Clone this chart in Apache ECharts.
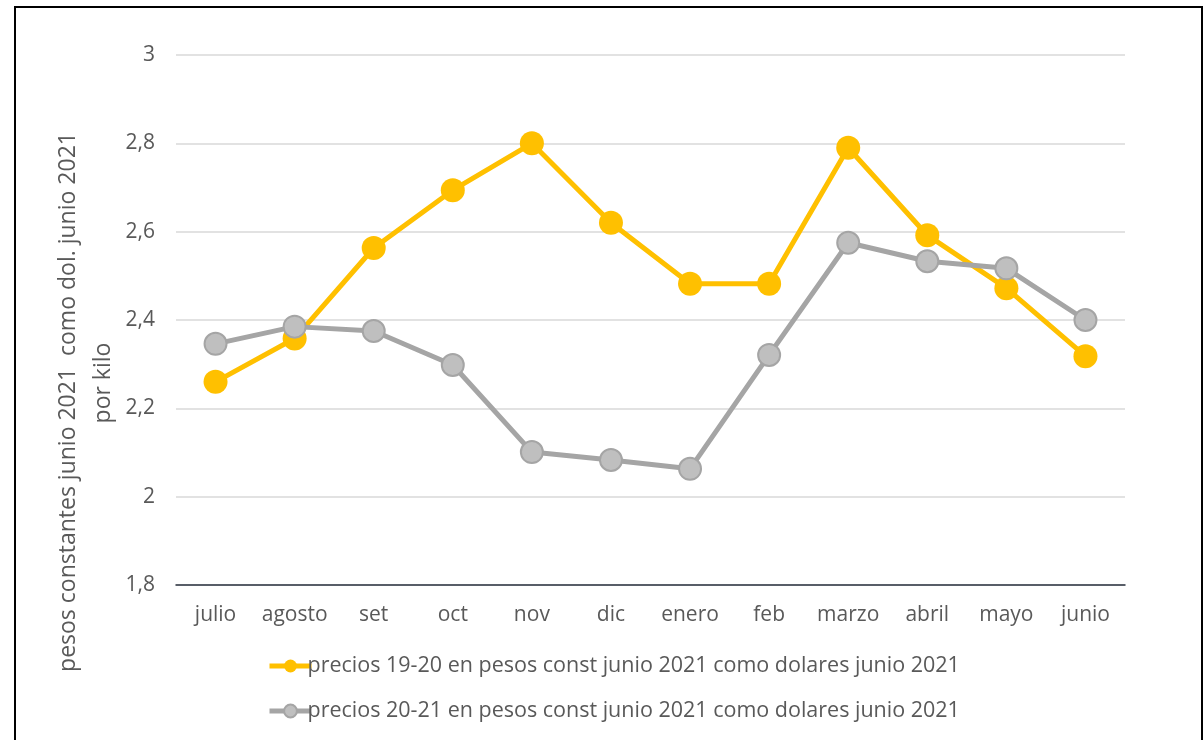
<!DOCTYPE html>
<html>
<head>
<meta charset="utf-8">
<script src="https://cdn.jsdelivr.net/npm/echarts@6/dist/echarts.min.js"></script>
<style>
  html, body { margin: 0; padding: 0; background: #fff; }
  #frame {
    position: absolute; left: 14px; top: 6px; width: 1189px; height: 760px;
    border: 2px solid #000; box-sizing: border-box;
  }
  #chart { position: absolute; left: 0; top: 0; width: 1204px; height: 740px; }
</style>
</head>
<body>
<div id="frame"></div>
<div id="chart"></div>
<script>
// meses
var months = ['julio', 'agosto', 'set', 'oct', 'nov', 'dic', 'enero', 'feb', 'marzo', 'abril', 'mayo', 'junio']
// precios 19-20
var precios1920 = [2.26, 2.358, 2.563, 2.694, 2.80, 2.62, 2.482, 2.482, 2.79, 2.592, 2.472, 2.318]
// precios 20-21
var precios2021 = [2.346, 2.385, 2.375, 2.298, 2.101, 2.083, 2.063, 2.321, 2.575, 2.533, 2.517, 2.40]

var name1 = 'precios 19-20 en pesos const junio 2021 como dolares junio 2021'
var name2 = 'precios 20-21 en pesos const junio 2021 como dolares junio 2021'
var yName1 = 'pesos constantes junio 2021  como dol. junio 2021'
var yName2 = 'por kilo'

var font = 'Open Sans'
var myChart = echarts.init(document.getElementById('chart'))

function yTitle(text, x, y) {
  return {
    type: 'text',
    x: x,
    y: y,
    rotation: Math.PI / 2,
    style: {
      text: text,
      fill: '#595959',
      fontSize: 23,
      fontFamily: font,
      align: 'center',
      verticalAlign: 'middle',
    },
  }
}

var option = {
  animation: false,
  grid: { left: 176, right: 79, top: 55, bottom: 155 },
  // titulo del eje y
  graphic: [yTitle(yName1, 68, 402), yTitle(yName2, 103, 383)],
  legend: {
    orient: 'vertical',
    left: 262,
    top: 650,
    itemGap: 23,
    itemWidth: 42,
    itemHeight: 16,
    lineStyle: { width: 5 },
    textStyle: { color: '#595959', fontSize: 21.5, fontFamily: font, padding: [0, 0, 0, -9] },
    data: [name1, name2],
  },
  xAxis: {
    type: 'category',
    data: months,
    boundaryGap: true,
    axisLine: { lineStyle: { color: '#2b3340', width: 1.5 } },
    axisTick: { show: false },
    axisLabel: { color: '#595959', fontSize: 21, fontFamily: font, margin: 20, interval: 0 },
  },
  yAxis: {
    type: 'value',
    min: 1.8,
    max: 3,
    interval: 0.2,
    axisLine: { show: false },
    axisTick: { show: false },
    splitLine: { lineStyle: { color: '#d9d9d9', width: 1.5 } },
    axisLabel: {
      color: '#595959', fontSize: 21, fontFamily: font, margin: 21,
      formatter: function (v) { return String(Math.round(v * 10) / 10).replace('.', ',') },
    },
  },
  series: [
    {
      name: name1,
      type: 'line',
      data: precios1920,
      symbol: 'circle',
      symbolSize: 24,
      lineStyle: { color: '#FFC000', width: 5 },
      itemStyle: { color: '#FFC000' },
    },
    {
      name: name2,
      type: 'line',
      data: precios2021,
      symbol: 'circle',
      symbolSize: 22,
      lineStyle: { color: '#A5A5A5', width: 5 },
      itemStyle: { color: '#BFBFBF', borderColor: '#A5A5A5', borderWidth: 2 },
    },
  ],
}

myChart.setOption(option)
</script>
</body>
</html>
